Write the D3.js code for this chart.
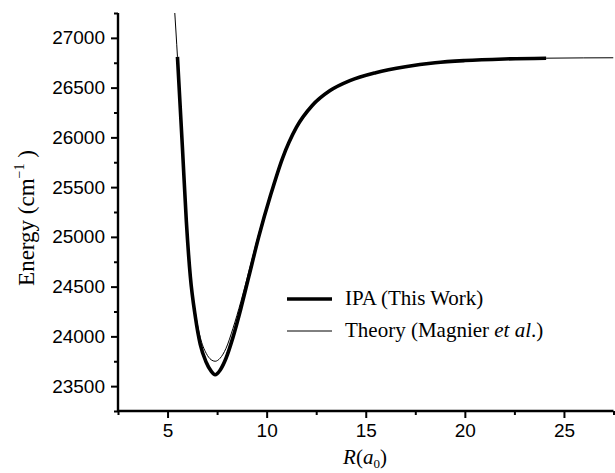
<!DOCTYPE html>
<html>
<head>
<meta charset="utf-8">
<script src="https://cdn.jsdelivr.net/npm/d3@7/dist/d3.min.js"></script>
<style>
  html, body { margin: 0; padding: 0; background: #fff; }
  svg { display: block; }
</style>
</head>
<body>
<svg id="chart" width="615" height="473"></svg>
<script>
// Potential energy curves: internuclear distance R (a0) vs energy (cm^-1)
const ipaR = [5.50, 5.75, 5.95, 6.15, 6.40, 6.65, 6.95, 7.20, 7.40, 7.65, 7.95, 8.30, 8.70, 9.10, 9.60, 10.2, 10.8, 11.5, 12.3, 13.2, 14.2, 15.5, 17.0, 18.5, 20.0, 22.0, 24.1];
const ipaE = [26810, 25900, 25150, 24600, 24200, 23920, 23740, 23650, 23615, 23660, 23780, 23990, 24280, 24600, 25000, 25420, 25790, 26100, 26320, 26470, 26570, 26650, 26710, 26750, 26772, 26788, 26796];

const theoryR = [5.35, 5.50, 5.75, 5.95, 6.15, 6.40, 6.65, 6.95, 7.20, 7.40, 7.65, 7.95, 8.30, 8.70, 9.10, 9.60, 10.2, 10.8, 11.5, 12.3, 13.2, 14.2, 15.5, 17.0, 18.5, 20.0, 22.0, 24.1, 26.0, 27.5];
const theoryE = [27300, 26810, 25900, 25160, 24620, 24240, 23990, 23830, 23765, 23750, 23780, 23880, 24080, 24350, 24650, 25030, 25430, 25790, 26100, 26320, 26470, 26570, 26650, 26710, 26750, 26772, 26788, 26796, 26799, 26800];

const xMajorTicks = [5, 10, 15, 20, 25];
const yMajorTicks = [23500, 24000, 24500, 25000, 25500, 26000, 26500, 27000];

const legendLabels = ["IPA (This Work)", "Theory (Magnier ", "et al", ".)"];

const svg = d3.select("#chart");
const plot = { left: 118, right: 613.5, top: 13, bottom: 411 };

const x = d3.scaleLinear().domain([2.5, 27.5]).range([plot.left, plot.right]);
const y = d3.scaleLinear().domain([23250, 27250]).range([plot.bottom, plot.top]);

svg.append("defs").append("clipPath").attr("id", "plotClip")
  .append("rect")
  .attr("x", plot.left).attr("y", plot.top)
  .attr("width", plot.right - plot.left).attr("height", plot.bottom - plot.top);

const tickFont = "'Liberation Sans', Arial, sans-serif";
const serif = "'Liberation Serif', 'Times New Roman', serif";

// Minor ticks sit halfway between the labelled ones
const xMinor = d3.range(2.5, 27.6, 5);
const yMinor = d3.range(23250, 27251, 500);

const xAxis = d3.axisBottom(x).tickValues(xMajorTicks).tickSize(7).tickPadding(6).tickFormat(d3.format("d"));
const yAxis = d3.axisLeft(y).tickValues(yMajorTicks).tickSize(7).tickPadding(6).tickFormat(d3.format("d"));

const gx = svg.append("g").attr("transform", `translate(0,${plot.bottom})`).call(xAxis);
const gy = svg.append("g").attr("transform", `translate(${plot.left},0)`).call(yAxis);

svg.append("g").attr("transform", `translate(0,${plot.bottom})`)
  .call(d3.axisBottom(x).tickValues(xMinor).tickSize(4).tickFormat(""))
  .select(".domain").remove();
svg.append("g").attr("transform", `translate(${plot.left},0)`)
  .call(d3.axisLeft(y).tickValues(yMinor).tickSize(4).tickFormat(""))
  .select(".domain").remove();

svg.selectAll(".domain").attr("stroke", "#000").attr("stroke-width", 2.4);
svg.selectAll(".tick line").attr("stroke", "#000").attr("stroke-width", 2);
[gx, gy].forEach(g => g.selectAll(".tick text")
  .attr("font-family", tickFont).attr("font-size", 19).attr("fill", "#000"));
gy.select(".domain").attr("d", `M0,${plot.bottom}V${plot.top}`);
gx.select(".domain").attr("d", `M${plot.left},0H${plot.right}`);

// Curves
const line = d3.line().x(d => x(d[0])).y(d => y(d[1])).curve(d3.curveMonotoneX);
const ipa = ipaR.map((r, i) => [r, ipaE[i]]);
const theory = theoryR.map((r, i) => [r, theoryE[i]]);

const curves = svg.append("g").attr("clip-path", "url(#plotClip)");
curves.append("path").datum(ipa)
  .attr("d", line).attr("fill", "none").attr("stroke", "#000").attr("stroke-width", 3.6)
  .attr("stroke-linejoin", "round");
curves.append("path").datum(theory)
  .attr("d", line).attr("fill", "none").attr("stroke", "#000").attr("stroke-width", 1)
  .attr("stroke-linejoin", "round");

// Axis titles
const yTitle = svg.append("text")
  .attr("transform", "translate(34,218) rotate(-90)")
  .attr("text-anchor", "middle")
  .attr("font-family", serif).attr("font-size", 23).attr("fill", "#000");
yTitle.append("tspan").text("Energy (cm");
yTitle.append("tspan").attr("font-size", 14).attr("dy", -10).text("−1");
yTitle.append("tspan").attr("dy", 10).text(" )");

const xTitle = svg.append("text")
  .attr("x", 365).attr("y", 464)
  .attr("text-anchor", "middle")
  .attr("font-family", serif).attr("font-size", 21).attr("fill", "#000");
xTitle.append("tspan").attr("font-style", "italic").text("R");
xTitle.append("tspan").text("(");
xTitle.append("tspan").attr("font-style", "italic").text("a");
xTitle.append("tspan").attr("font-size", 13).attr("dy", 4).text("0");
xTitle.append("tspan").attr("dy", -4).text(")");

// Legend
const legend = svg.append("g");
legend.append("line").attr("x1", 287).attr("x2", 332).attr("y1", 299).attr("y2", 299)
  .attr("stroke", "#000").attr("stroke-width", 3.6);
legend.append("line").attr("x1", 287).attr("x2", 332).attr("y1", 331).attr("y2", 331)
  .attr("stroke", "#000").attr("stroke-width", 1);
legend.append("text").attr("x", 345).attr("y", 305)
  .attr("font-family", serif).attr("font-size", 21).attr("fill", "#000")
  .text(legendLabels[0]);
const t2 = legend.append("text").attr("x", 345).attr("y", 337)
  .attr("font-family", serif).attr("font-size", 21).attr("fill", "#000");
t2.append("tspan").text(legendLabels[1]);
t2.append("tspan").attr("font-style", "italic").text(legendLabels[2]);
t2.append("tspan").text(legendLabels[3]);
</script>
</body>
</html>
